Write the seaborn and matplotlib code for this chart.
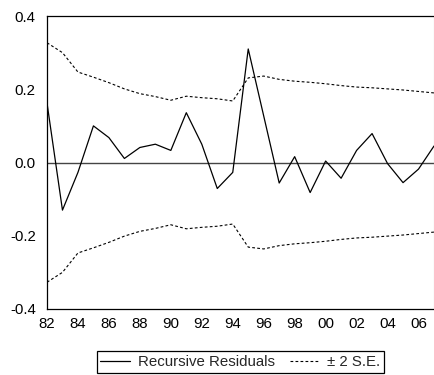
import numpy as np
import pandas as pd
import matplotlib
matplotlib.use("Agg")
import matplotlib.pyplot as plt
import seaborn as sns

years = list(range(1982, 2008))
residuals = [0.163, -0.130, -0.027, 0.100, 0.068, 0.011, 0.041, 0.050, 0.033, 0.136,
             0.050, -0.071, -0.027, 0.310, 0.127, -0.056, 0.016, -0.082, 0.004, -0.043,
             0.033, 0.079, -0.003, -0.055, -0.018, 0.045]
two_se = [0.327, 0.300, 0.247, 0.233, 0.218, 0.201, 0.188, 0.180, 0.170, 0.181,
          0.177, 0.174, 0.168, 0.231, 0.236, 0.227, 0.222, 0.219, 0.215, 0.210,
          0.206, 0.204, 0.201, 0.198, 0.194, 0.190]
y_ticks = [-0.4, -0.2, 0.0, 0.2, 0.4]
x_label_years = list(range(1982, 2008, 2))

df = pd.DataFrame({"year": years, "resid": residuals,
                   "upper": two_se, "lower": [-v for v in two_se]})

sns.set_style("white")
plt.rcParams["font.family"] = ["Liberation Sans", "DejaVu Sans"]
plt.rcParams["axes.unicode_minus"] = False

fig = plt.figure(figsize=(4.35, 3.75), dpi=100)
ax = fig.add_axes([0.108, 0.176, 0.8897, 0.7813])

ax.axhline(0, color="#444444", lw=1.0, zorder=1)
sns.lineplot(data=df, x="year", y="resid", ax=ax, color="black", lw=0.9,
             label="Recursive Residuals", zorder=3)
sns.lineplot(data=df, x="year", y="upper", ax=ax, color="black", lw=0.8,
             linestyle=(0, (2.5, 2)), label="\u00b1 2 S.E.", zorder=2)
sns.lineplot(data=df, x="year", y="lower", ax=ax, color="black", lw=0.8,
             linestyle=(0, (2.5, 2)), label="_nolegend_", zorder=2)

ax.set_xlim(1982, 2007)
ax.set_ylim(-0.4, 0.4)
ax.set_xlabel("")
ax.set_ylabel("")

ax.set_yticks(y_ticks)
ax.set_yticklabels([f"{v:.1f}" for v in y_ticks])
ax.set_xticks(years, minor=True)
ax.set_xticks(x_label_years)
ax.set_xticklabels([f"{y % 100:02d}" for y in x_label_years])

ax.tick_params(axis="both", which="both", direction="out", length=4, width=0.8,
               color="black", labelsize=10.8, labelcolor="black")
ax.tick_params(axis="x", which="both", pad=2)
ax.tick_params(axis="y", pad=4)
ax.tick_params(axis="x", which="minor", labelbottom=False)

for side in ["left", "bottom", "top"]:
    ax.spines[side].set_color("black")
    ax.spines[side].set_linewidth(0.9)
ax.spines["right"].set_color("#bbbbbb")
ax.spines["right"].set_linewidth(0.8)

ax.get_legend().remove()
handles, labels = ax.get_legend_handles_labels()
leg = fig.legend(handles, labels, loc="center", bbox_to_anchor=(0.553, 0.035),
                 ncol=2, frameon=True, fancybox=False, edgecolor="black",
                 framealpha=1, fontsize=10.8, handlelength=2.0, handletextpad=0.5,
                 columnspacing=1.0, borderpad=0.25, borderaxespad=0)
leg.get_frame().set_linewidth(0.9)

fig.savefig("out.png", dpi=100)
